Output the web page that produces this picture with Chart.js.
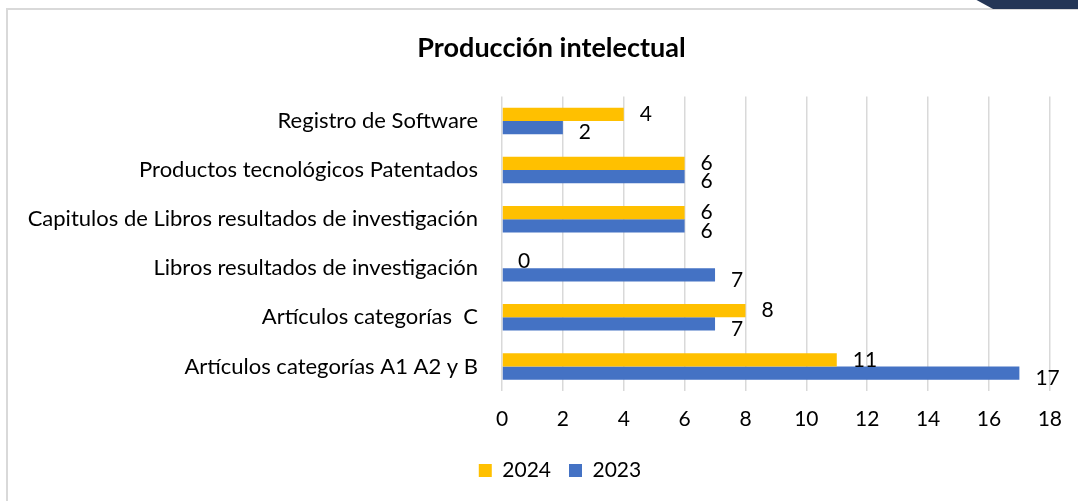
<!DOCTYPE html>
<html>
<head>
<meta charset="utf-8">
<script src="https://cdn.jsdelivr.net/npm/chart.js@4.4.1/dist/chart.umd.min.js"></script>
<style>
  body { margin: 0; background: #fff; }
  #wrap { position: relative; width: 1078px; height: 501px; overflow: hidden; }
  #frame { position: absolute; left: 6px; top: 8px; width: 1100px; height: 520px;
           border-left: 2px solid #d9d9d9; border-top: 2px solid #d9d9d9; }
  #corner { position: absolute; left: 960px; top: 0; width: 118px; height: 9px;
            background: #243656; clip-path: polygon(14% 0, 100% 0, 100% 100%, 28% 100%); }
  canvas { position: absolute; left: 0; top: 0; }
</style>
</head>
<body>
<div id="wrap">
  <div id="frame"></div>
  <div id="corner"></div>
  <canvas id="chart" width="1078" height="501"></canvas>
</div>
<script>
// Chart data
const categories = [
  'Registro de Software',
  'Productos tecnológicos Patentados',
  'Capitulos de Libros resultados de investigación',
  'Libros resultados de investigación',
  'Artículos categorías  C',
  'Artículos categorías A1 A2 y B'
];
const values2024 = [4, 6, 6, 0, 8, 11];
const values2023 = [2, 6, 6, 7, 7, 17];
const xTicks = [0, 2, 4, 6, 8, 10, 12, 14, 16, 18];

const FONT = "Lato, 'Open Sans', sans-serif";

// value labels to the right of each bar
const barLabels = {
  id: 'barLabels',
  afterDatasetsDraw(chart) {
    const ctx = chart.ctx;
    ctx.save();
    ctx.font = '21px ' + FONT;
    ctx.fillStyle = '#000';
    ctx.textAlign = 'left';
    ctx.textBaseline = 'middle';
    chart.data.datasets.forEach((ds, i) => {
      const meta = chart.getDatasetMeta(i);
      const shift = i === 0 ? 0 : 5;
      meta.data.forEach((bar, j) => {
        ctx.fillText(String(ds.data[j]), bar.x + 16, bar.y + shift);
      });
    });
    ctx.restore();
  }
};

// title and legend are centred a bit right of the canvas middle
const shiftBlocks = {
  id: 'shiftBlocks',
  afterLayout(chart) {
    if (chart.titleBlock) chart.titleBlock.left = 53;
    if (chart.legend) chart.legend.left = 70;
  }
};

new Chart(document.getElementById('chart'), {
  type: 'bar',
  data: {
    labels: categories,
    datasets: [
      { label: '2024', data: values2024, backgroundColor: '#FFC000' },
      { label: '2023', data: values2023, backgroundColor: '#4472C4' }
    ]
  },
  options: {
    indexAxis: 'y',
    responsive: false,
    animation: false,
    layout: { padding: { left: 0, right: 28, top: 0, bottom: 10 } },
    datasets: { bar: { categoryPercentage: 0.54, barPercentage: 1 } },
    scales: {
      x: {
        min: 0, max: 18,
        afterBuildTicks: axis => { axis.ticks = xTicks.map(v => ({ value: v })); },
        afterFit: axis => { axis.height = 51; },
        grid: { color: '#d9d9d9', lineWidth: 1.5, drawTicks: false },
        border: { display: false },
        ticks: { padding: 16, color: '#000', font: { family: FONT, size: 21 } }
      },
      y: {
        afterFit: axis => { axis.width = 502; },
        grid: { display: false, drawTicks: false },
        border: { display: false },
        ticks: { padding: 24, color: '#000', font: { family: FONT, size: 22 } }
      }
    },
    plugins: {
      title: {
        display: true,
        text: 'Producción intelectual',
        color: '#000',
        font: { family: FONT, size: 27, weight: 'bold' },
        padding: { top: 32, bottom: 32 }
      },
      legend: {
        position: 'bottom',
        labels: { boxWidth: 13, boxHeight: 13, padding: 18, color: '#000',
                  font: { family: FONT, size: 21 } }
      },
      tooltip: { enabled: false }
    }
  },
  plugins: [barLabels, shiftBlocks]
});
</script>
</body>
</html>
